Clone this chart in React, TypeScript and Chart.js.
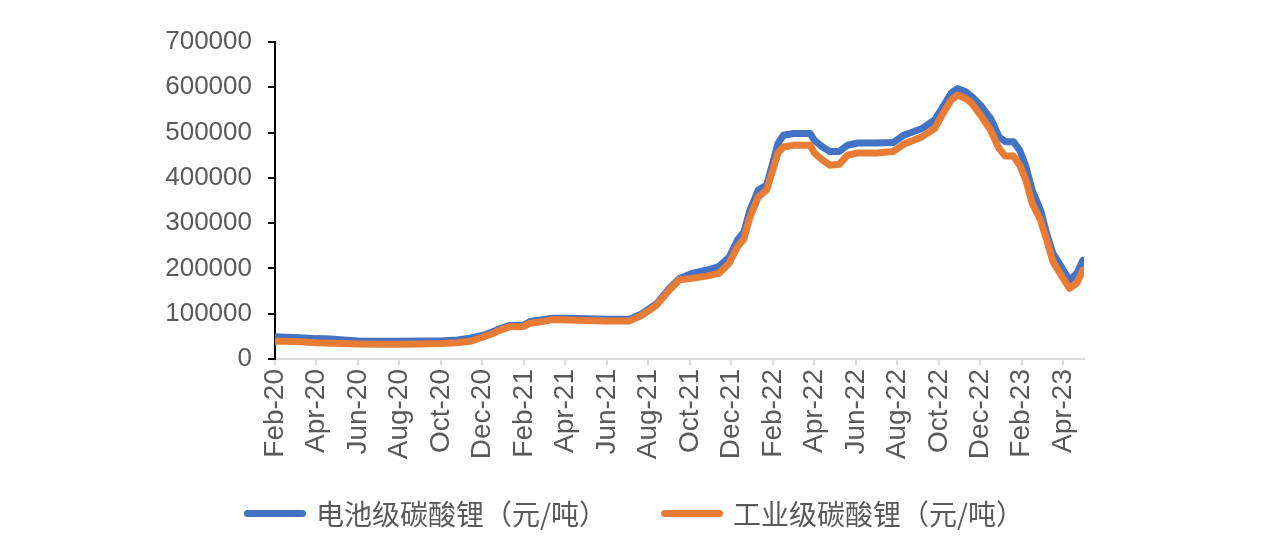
import React, { useEffect, useRef } from "react";
import { Chart, registerables } from "chart.js";

Chart.register(...registerables);

// months elapsed since 1 Feb 2020
const monthIdx = [
  0, 0.5, 1.2, 2.0, 2.7, 3.3, 4.0, 5.0, 6.0, 7.0, 8.0, 8.8, 9.4, 10.0, 10.5, 10.9, 11.3, 12.0,
  12.3, 12.8, 13.4, 14.2, 15.0, 16.0, 17.1, 17.7, 18.4, 19.0, 19.5, 20.1, 20.8, 21.4, 21.9,
  22.3, 22.6, 22.9, 23.3, 23.7, 23.95, 24.25, 24.5, 25.0, 25.8, 26.0, 26.4, 26.75, 27.2, 27.6,
  28.1, 29.0, 29.8, 30.3, 31.2, 31.8, 32.2, 32.6, 32.9, 33.3, 33.6, 34.0, 34.5, 34.9, 35.2,
  35.6, 35.9, 36.2, 36.5, 36.9, 37.2, 37.5, 37.9, 38.3, 38.65, 38.95,
];

const batteryGrade = [
  49000, 48000, 47000, 45000, 44000, 42000, 40000, 39000, 39000, 39500, 40000, 42000, 46000,
  52000, 60000, 68000, 74000, 75000, 83000, 86000, 90000, 90000, 89000, 88000, 88000, 100000,
  122000, 155000, 178000, 189000, 196000, 204000, 225000, 263000, 280000, 329000, 373000,
  384000, 425000, 476000, 494000, 498000, 498000, 483000, 468000, 458000, 458000, 472000,
  477000, 477000, 478000, 494000, 509000, 528000, 557000, 587000, 597000, 590000, 579000,
  561000, 531000, 491000, 480000, 480000, 461000, 425000, 373000, 329000, 277000, 233000,
  204000, 174000, 189000, 218000,
];

const industrialGrade = [
  39000, 39000, 38000, 36000, 35000, 34000, 33000, 32500, 32500, 33000, 34000, 36000, 39000,
  48000, 56000, 65000, 71000, 72000, 79000, 82000, 87000, 86000, 85000, 84000, 84000, 97000,
  119000, 152000, 175000, 178000, 183000, 189000, 212000, 248000, 265000, 314000, 358000,
  373000, 410000, 455000, 468000, 472000, 472000, 455000, 439000, 428000, 430000, 450000,
  455000, 455000, 458000, 474000, 491000, 509000, 542000, 572000, 583000, 575000, 564000,
  539000, 505000, 465000, 448000, 448000, 428000, 395000, 344000, 307000, 263000, 215000,
  185000, 156000, 167000, 196000,
];

const tickLabels = [
  "Feb-20", "Apr-20", "Jun-20", "Aug-20", "Oct-20", "Dec-20", "Feb-21", "Apr-21", "Jun-21",
  "Aug-21", "Oct-21", "Dec-21", "Feb-22", "Apr-22", "Jun-22", "Aug-22", "Oct-22", "Dec-22",
  "Feb-23", "Apr-23",
];

const seriesNames = ["电池级碳酸锂（元/吨）", "工业级碳酸锂（元/吨）"];
const seriesColors = ["#4472C4", "#E97C35"];

const LATIN = "'Liberation Sans', Arial, 'Noto Sans CJK SC', sans-serif";
const CJK = "'Noto Sans CJK SC', 'Liberation Sans', sans-serif";
const TEXT = "#595959";

export default function App() {
  const ref = useRef<HTMLCanvasElement | null>(null);

  useEffect(() => {
    document.body.style.margin = "0";
    if (!ref.current) return;
    const toPts = (vals: number[]) => vals.map((v, i) => ({ x: monthIdx[i], y: v }));
    const chart = new Chart(ref.current, {
      type: "line",
      data: {
        datasets: [
          {
            label: seriesNames[0],
            data: toPts(batteryGrade),
            borderColor: seriesColors[0],
            backgroundColor: seriesColors[0],
            borderWidth: 7,
            pointRadius: 0,
            tension: 0,
            borderJoinStyle: "round",
            borderCapStyle: "round",
            order: 2,
          },
          {
            label: seriesNames[1],
            data: toPts(industrialGrade),
            borderColor: seriesColors[1],
            backgroundColor: seriesColors[1],
            borderWidth: 7,
            pointRadius: 0,
            tension: 0,
            borderJoinStyle: "round",
            borderCapStyle: "round",
            order: 1,
          },
        ],
      },
      options: {
        animation: false,
        responsive: true,
        maintainAspectRatio: false,
        layout: { padding: { left: 0, right: 196, top: 42, bottom: 0 } },
        plugins: {
          legend: { display: false },
          tooltip: { enabled: false },
        },
        scales: {
          x: {
            type: "linear",
            min: 0,
            max: 39,
            afterFit: (s: any) => {
              s.height = 185;
            },
            afterBuildTicks: (s: any) => {
              s.ticks = tickLabels.map((_, i) => ({ value: i * 2 }));
            },
            ticks: {
              autoSkip: false,
              maxRotation: 90,
              minRotation: 90,
              padding: 4,
              color: TEXT,
              font: { family: LATIN, size: 28 },
              callback: (v: any) => tickLabels[Math.round(Number(v) / 2)] ?? "",
            },
            grid: {
              display: true,
              drawOnChartArea: false,
              drawTicks: true,
              tickLength: 6,
              color: "#d9d9d9",
              lineWidth: 2,
            },
            border: { display: true, color: "#d9d9d9", width: 2 },
          },
          y: {
            min: 0,
            max: 700000,
            afterFit: (s: any) => {
              s.width = 275;
            },
            ticks: {
              stepSize: 100000,
              padding: 16,
              color: TEXT,
              font: { family: LATIN, size: 26 },
              callback: (v: any) => String(v),
            },
            grid: {
              display: true,
              drawOnChartArea: false,
              drawTicks: true,
              tickLength: 7,
              color: "#000000",
              lineWidth: 2,
            },
            border: { display: true, color: "#000000", width: 2 },
          },
        },
      },
    });
    return () => chart.destroy();
  }, []);

  return (
    <div style={{ position: "relative", width: 1280, height: 544, background: "#fff" }}>
      <canvas ref={ref} />
      <div
        style={{
          position: "absolute",
          left: 0,
          top: 494,
          width: 1280,
          height: 38,
          display: "flex",
          justifyContent: "center",
          alignItems: "center",
          gap: 54,
          paddingRight: 12,
          boxSizing: "border-box",
          fontFamily: CJK,
          fontSize: 28,
          color: TEXT,
        }}
      >
        {seriesNames.map((n, i) => (
          <div key={n} style={{ display: "flex", alignItems: "center" }}>
            <span
              style={{
                display: "inline-block",
                width: 62,
                height: 7,
                borderRadius: 4,
                background: seriesColors[i],
                marginRight: 10,
              }}
            />
            <span style={{ lineHeight: "38px" }}>{n}</span>
          </div>
        ))}
      </div>
    </div>
  );
}
